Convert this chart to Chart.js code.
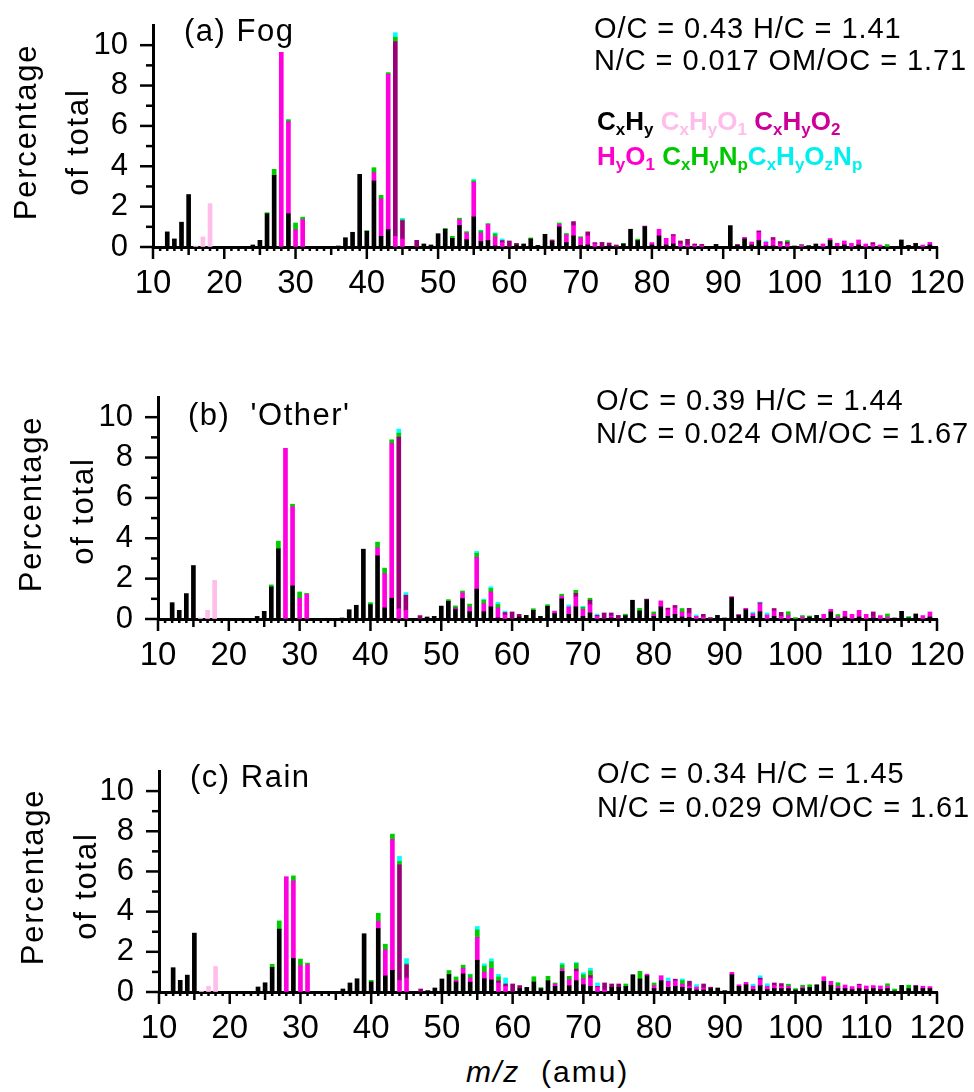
<!DOCTYPE html>
<html>
<head>
<meta charset="utf-8">
<title>AMS mass spectra: Fog, Other, Rain</title>
<script src="https://cdn.jsdelivr.net/npm/chart.js@4"></script>
<style>
  html, body { margin: 0; padding: 0; background: #fff; }
  body { position: relative; width: 974px; height: 1092px; overflow: hidden;
         font-family: 'Liberation Sans', Arial, sans-serif; color: #000; }
  canvas { position: absolute; left: 0; }
  .txt { position: absolute; white-space: nowrap; line-height: 1; }
  .stats { font-size: 29px; letter-spacing: 0.9px; }
  .ptitle { font-size: 31px; letter-spacing: 1.5px; }
  .ytitle { font-size: 31px; letter-spacing: 1.8px; transform: translate(-50%, -50%) rotate(-90deg); }
  .legend { font-size: 26px; font-weight: bold; }
  .legend sub { font-size: 17px; vertical-align: -5px; line-height: 0; }
</style>
</head>
<body>

<canvas id="chartFog" width="974" height="310" style="top:0px"></canvas>
<canvas id="chartOther" width="974" height="310" style="top:370px"></canvas>
<canvas id="chartRain" width="974" height="310" style="top:745px"></canvas>

<!-- panel labels -->
<div class="txt ptitle" style="left:184px; top:15px">(a) Fog</div>
<div class="txt ptitle" style="left:188px; top:399px">(b)&nbsp; 'Other'</div>
<div class="txt ptitle" style="left:190px; top:761px">(c) Rain</div>

<!-- elemental ratios -->
<div class="txt stats" style="left:594px; top:14px">O/C = 0.43 H/C = 1.41</div>
<div class="txt stats" style="left:594px; top:46px">N/C = 0.017 OM/OC = 1.71</div>
<div class="txt stats" style="left:596px; top:386px">O/C = 0.39 H/C = 1.44</div>
<div class="txt stats" style="left:596px; top:419px">N/C = 0.024 OM/OC = 1.67</div>
<div class="txt stats" style="left:597px; top:759px">O/C = 0.34 H/C = 1.45</div>
<div class="txt stats" style="left:597px; top:793px">N/C = 0.029 OM/OC = 1.61</div>

<!-- family legend (colours as printed on the original figure) -->
<div class="txt legend" style="left:597px; top:108px">
  <span style="color:#000">C<sub>x</sub>H<sub>y</sub></span>
  <span style="color:#FFBDEA">C<sub>x</sub>H<sub>y</sub>O<sub>1</sub></span>
  <span style="color:#CC0099">C<sub>x</sub>H<sub>y</sub>O<sub>2</sub></span>
</div>
<div class="txt legend" style="left:597px; top:143px">
  <span style="color:#FF00CC">H<sub>y</sub>O<sub>1</sub></span>
  <span style="color:#00C800">C<sub>x</sub>H<sub>y</sub>N<sub>p</sub></span><span style="color:#00F0F0">C<sub>x</sub>H<sub>y</sub>O<sub>z</sub>N<sub>p</sub></span>
</div>

<!-- y axis titles -->
<div class="txt ytitle" style="left:25px; top:132px">Percentage</div>
<div class="txt ytitle" style="left:77px; top:142px">of total</div>
<div class="txt ytitle" style="left:30px; top:504px">Percentage</div>
<div class="txt ytitle" style="left:82px; top:511px">of total</div>
<div class="txt ytitle" style="left:32px; top:877px">Percentage</div>
<div class="txt ytitle" style="left:85px; top:886px">of total</div>

<!-- x axis title -->
<div class="txt" style="left:466px; top:1057px; font-size:30px; letter-spacing:2px"><i>m/z</i>&nbsp; (amu)</div>

<script>
// x axis: m/z range and labelled ticks
const mzMin = 10;
const mzMax = 120;
const xTickLabels = [10, 20, 30, 40, 50, 60, 70, 80, 90, 100, 110, 120];
// y axis: percentage of total
const yMax = 11;
const yTickLabels = [0, 2, 4, 6, 8, 10];

// ion families, bottom of the stack first
const families = ['CxHy', 'HyO1', 'CxHyO1', 'CxHyO2', 'CxHyNp', 'CxHyOzNp'];
const familyColors = ['#000000', '#FFBDEA', '#FF00E0', '#990078', '#00CC00', '#00FFFF'];

// values as [m/z, % of total]; m/z not listed = 0

// (a) Fog
const fogCxHy = [[12,0.75],[13,0.4],[14,1.23],[15,2.6],[24,0.1],[25,0.33],[26,1.65],[27,3.55],[29,1.65],
  [36,0.05],[37,0.46],[38,0.73],[39,3.6],[40,0.78],[41,3.27],[42,0.53],[43,0.86],[48,0.15],[49,0.1],
  [50,0.66],[51,0.88],[52,0.43],[53,1.07],[54,0.36],[55,1.49],[56,0.27],[57,0.32],[58,0.05],[61,0.1],
  [62,0.15],[63,0.4],[64,0.08],[65,0.63],[66,0.27],[67,1.0],[68,0.22],[69,0.55],[70,0.08],[71,0.1],
  [74,0.05],[76,0.15],[77,0.88],[78,0.32],[79,1.01],[80,0.1],[81,0.55],[82,0.1],[83,0.15],[88,0.03],
  [89,0.13],[90,0.03],[91,1.06],[92,0.1],[93,0.4],[94,0.1],[95,0.32],[96,0.05],[97,0.05],[100,0.05],
  [102,0.07],[103,0.15],[105,0.32],[106,0.03],[107,0.1],[109,0.1],[114,0.03],[115,0.35],[116,0.08],
  [117,0.18],[119,0.1]];
const fogHyO1 = [[16,0.05],[17,0.5],[18,2.15]];
const fogCxHyO1 = [[28,9.65],[29,4.56],[30,0.86],[31,1.36],[41,0.41],[42,1.86],[43,7.7],[44,0.53],[45,0.4],
  [53,0.28],[54,0.33],[55,1.72],[56,0.43],[57,0.79],[58,0.45],[59,0.22],[67,0.12],[68,0.38],[69,0.51],
  [70,0.38],[71,0.45],[72,0.15],[79,0.03],[80,0.12],[81,0.33],[82,0.33],[83,0.4],[84,0.15],[85,0.1],
  [86,0.08],[87,0.06],[92,0.03],[93,0.08],[94,0.15],[95,0.41],[96,0.18],[97,0.3],[98,0.15],[99,0.12],
  [101,0.1],[104,0.15],[105,0.1],[106,0.15],[107,0.2],[108,0.18],[109,0.25],[110,0.15],[111,0.12],
  [112,0.1],[118,0.1],[119,0.13]];
const fogCxHyO2 = [[44,9.65],[45,0.9],[47,0.33],[59,0.1],[60,0.3],[61,0.08],[66,0.08],[69,0.2],[71,0.2],
  [72,0.07],[73,0.23],[74,0.15],[75,0.1],[83,0.07],[84,0.15],[85,0.28],[86,0.07],[87,0.07],[95,0.07],
  [97,0.12],[98,0.12],[99,0.12],[111,0.1]];
const fogCxHyNp = [[26,0.05],[27,0.3],[29,0.1],[30,0.33],[31,0.12],[40,0.03],[41,0.25],[42,0.17],[43,0.08],
  [44,0.22],[45,0.05],[51,0.04],[52,0.1],[53,0.08],[54,0.07],[55,0.07],[56,0.1],[57,0.05],[58,0.15],
  [63,0.05],[67,0.07],[68,0.07],[70,0.05],[76,0.03],[78,0.07],[99,0.08],[101,0.03],[113,0.12]];
const fogCxHyOzNp = [[44,0.22],[45,0.07],[55,0.07],[56,0.03],[58,0.05],[59,0.08],[96,0.05]];

// (b) 'Other'
const otherCxHy = [[12,0.81],[13,0.43],[14,1.26],[15,2.65],[24,0.13],[25,0.38],[26,1.59],[27,3.48],[29,1.64],
  [36,0.05],[37,0.46],[38,0.68],[39,3.46],[40,0.71],[41,3.13],[42,0.55],[43,1.03],[48,0.1],[49,0.13],
  [50,0.64],[51,0.88],[52,0.47],[53,1.01],[54,0.36],[55,1.48],[56,0.36],[57,0.6],[58,0.05],[61,0.1],
  [62,0.18],[63,0.43],[64,0.13],[65,0.63],[66,0.27],[67,1.0],[68,0.23],[69,0.6],[70,0.13],[71,0.3],
  [74,0.05],[76,0.17],[77,0.93],[78,0.4],[79,0.96],[80,0.13],[81,0.6],[82,0.13],[83,0.23],[84,0.1],
  [85,0.08],[89,0.18],[90,0.05],[91,1.06],[92,0.18],[93,0.46],[94,0.13],[95,0.36],[97,0.13],[102,0.1],
  [103,0.18],[105,0.35],[107,0.1],[109,0.1],[111,0.05],[114,0.05],[115,0.38],[116,0.05],[117,0.25],
  [119,0.1]];
const otherHyO1 = [[16,0.05],[17,0.43],[18,1.92]];
const otherCxHyO1 = [[28,8.46],[29,3.92],[30,1.03],[31,1.22],[41,0.4],[42,1.7],[43,7.68],[44,0.51],[45,0.43],
  [52,0.04],[53,0.28],[54,0.24],[55,1.58],[56,0.4],[57,0.74],[58,0.5],[59,0.2],[66,0.12],[67,0.13],
  [68,0.37],[69,0.5],[70,0.35],[71,0.41],[72,0.13],[74,0.1],[79,0.03],[80,0.1],[81,0.3],[82,0.33],
  [83,0.32],[84,0.25],[85,0.2],[86,0.13],[87,0.1],[91,0.05],[92,0.05],[93,0.07],[94,0.13],[95,0.4],
  [96,0.2],[97,0.27],[98,0.13],[99,0.18],[101,0.1],[104,0.23],[105,0.13],[106,0.1],[107,0.28],[108,0.23],
  [109,0.33],[110,0.23],[111,0.05],[112,0.17],[113,0.1],[118,0.17],[119,0.25]];
const otherCxHyO2 = [[44,8.5],[45,0.75],[47,0.17],[52,0.04],[59,0.12],[60,0.35],[61,0.13],[69,0.17],[71,0.22],
  [72,0.05],[73,0.3],[74,0.15],[75,0.18],[82,0.08],[83,0.12],[85,0.25],[87,0.13],[88,0.07],[95,0.04],
  [97,0.12],[98,0.2],[111,0.25]];
const otherCxHyNp = [[26,0.1],[27,0.38],[29,0.13],[30,0.31],[31,0.05],[40,0.1],[41,0.28],[42,0.27],[43,0.17],
  [44,0.2],[51,0.08],[52,0.1],[53,0.1],[54,0.14],[55,0.2],[56,0.17],[57,0.17],[58,0.17],[63,0.08],
  [65,0.08],[67,0.1],[69,0.15],[70,0.1],[71,0.1],[76,0.07],[78,0.13],[80,0.12],[84,0.17],[99,0.18],
  [100,0.07],[101,0.07],[102,0.05],[106,0.12],[113,0.15],[116,0.07]];
const otherCxHyOzNp = [[44,0.2],[45,0.13],[55,0.09],[56,0.05],[57,0.09],[58,0.1],[59,0.07],[68,0.1],[70,0.05],
  [72,0.07],[86,0.07],[94,0.08],[95,0.04],[96,0.1]];

// (c) Rain
const rainCxHy = [[12,1.21],[13,0.58],[14,0.84],[15,2.93],[24,0.25],[25,0.46],[26,1.23],[27,3.13],[29,1.67],
  [36,0.15],[37,0.45],[38,0.66],[39,2.9],[40,0.5],[41,3.16],[42,0.8],[43,1.08],[48,0.07],[49,0.2],
  [50,0.65],[51,0.87],[52,0.5],[53,0.9],[54,0.49],[55,1.58],[56,0.66],[57,0.6],[61,0.17],[62,0.23],
  [63,0.5],[64,0.17],[65,0.56],[66,0.28],[67,1.03],[68,0.31],[69,0.56],[70,0.36],[71,0.28],[74,0.23],
  [75,0.23],[76,0.28],[77,0.86],[78,0.65],[79,0.81],[80,0.17],[81,0.56],[82,0.23],[83,0.28],[84,0.23],
  [85,0.17],[86,0.1],[87,0.1],[88,0.17],[89,0.2],[90,0.07],[91,0.86],[92,0.28],[93,0.36],[94,0.12],
  [95,0.31],[96,0.12],[97,0.17],[98,0.17],[99,0.17],[100,0.1],[101,0.17],[102,0.23],[103,0.36],[104,0.53],
  [105,0.33],[106,0.17],[107,0.17],[108,0.12],[109,0.17],[110,0.12],[111,0.17],[112,0.12],[113,0.17],
  [114,0.05],[115,0.33],[116,0.17],[117,0.3],[118,0.17],[119,0.17]];
const rainHyO1 = [[16,0.05],[17,0.28],[18,1.27]];
const rainCxHyO1 = [[28,5.74],[29,3.86],[30,1.32],[31,1.36],[41,0.35],[42,1.3],[43,6.52],[44,0.58],[45,0.7],
  [52,0.08],[53,0.28],[54,0.21],[55,1.14],[56,0.33],[57,0.57],[58,0.45],[59,0.28],[66,0.12],[67,0.12],
  [68,0.3],[69,0.46],[70,0.3],[71,0.41],[72,0.23],[73,0.1],[79,0.08],[80,0.15],[81,0.25],[82,0.3],
  [83,0.28],[84,0.17],[85,0.12],[86,0.15],[87,0.1],[91,0.12],[92,0.08],[93,0.12],[94,0.17],[95,0.3],
  [96,0.17],[97,0.15],[98,0.1],[99,0.12],[101,0.07],[104,0.23],[105,0.2],[106,0.12],[107,0.18],[108,0.15],
  [109,0.17],[110,0.18],[111,0.15],[112,0.18],[113,0.12],[117,0.03],[118,0.12],[119,0.1]];
const rainCxHyO2 = [[44,5.75],[45,0.65],[47,0.15],[58,0.1],[59,0.12],[60,0.4],[61,0.15],[69,0.12],[71,0.13],
  [72,0.05],[73,0.35],[74,0.17],[75,0.17],[83,0.08],[85,0.25],[87,0.2],[88,0.07],[95,0.08],[97,0.13],
  [98,0.15],[109,0.05]];
const rainCxHyNp = [[26,0.15],[27,0.41],[29,0.25],[30,0.32],[31,0.08],[40,0.08],[41,0.41],[42,0.28],[43,0.26],
  [44,0.17],[45,0.05],[51,0.2],[52,0.17],[53,0.16],[54,0.16],[55,0.37],[56,0.3],[57,0.34],[58,0.2],
  [63,0.26],[64,0.05],[65,0.22],[66,0.05],[67,0.2],[68,0.17],[69,0.28],[70,0.2],[71,0.23],[76,0.12],
  [78,0.38],[80,0.13],[84,0.17],[99,0.1],[100,0.07],[101,0.1],[102,0.13],[106,0.17],[113,0.12],[114,0.1],
  [116,0.17]];
const rainCxHyOzNp = [[44,0.25],[45,0.26],[54,0.03],[55,0.17],[56,0.11],[57,0.14],[58,0.13],[59,0.3],[67,0.08],
  [69,0.05],[70,0.1],[71,0.13],[72,0.17],[82,0.17],[84,0.08],[86,0.12],[94,0.1],[95,0.12],[96,0.12]];

document.addEventListener('DOMContentLoaded', function() {
    const fontFamily = "'Liberation Sans', Arial, sans-serif";

    // Tick marks: every m/z on x, odd minor ticks on y (Chart.js has no minor ticks)
    const tickMarks = {
        id: 'tickMarks',
        afterDraw(chart) {
            const ctx = chart.ctx;
            const xs = chart.scales.x;
            const ys = chart.scales.y;
            const base = ys.getPixelForValue(0);
            const left = xs.getPixelForValue(mzMin);
            ctx.save();
            ctx.strokeStyle = '#000';
            ctx.lineWidth = 2.5;
            for (let m = mzMin; m <= mzMax; m++) {
                const len = m % 10 === 0 ? 12 : (m % 5 === 0 ? 8 : 4);
                const px = xs.getPixelForValue(m);
                ctx.beginPath();
                ctx.moveTo(px, base);
                ctx.lineTo(px, base + len);
                ctx.stroke();
            }
            for (let v = 0; v <= 10; v++) {
                const len = v % 2 === 0 ? 13 : 7;
                const py = ys.getPixelForValue(v);
                ctx.beginPath();
                ctx.moveTo(left, py);
                ctx.lineTo(left - len, py);
                ctx.stroke();
            }
            ctx.restore();
        }
    };

    // fixed axis boxes, so the plot area lands where the original's does
    function fixX(canvas, area, canvasTop) {
        return s => {
            s.height = canvas.height - (area.bottom - canvasTop);
            s.paddingLeft = 0; s.paddingRight = 0; s.paddingTop = 0; s.paddingBottom = 0;
        };
    }
    function fixY(area) {
        return s => {
            s.width = area.left;
            s.paddingLeft = 0; s.paddingRight = 0; s.paddingTop = 0; s.paddingBottom = 0;
        };
    }

    function makeChart(canvasId, canvasTop, area, series) {
        const canvas = document.getElementById(canvasId);
        const datasets = series.map((pairs, i) => ({
            label: families[i],
            data: pairs.map(p => ({ x: p[0], y: p[1] })),
            backgroundColor: familyColors[i],
            borderWidth: 0,
            barThickness: 4,
            stack: 'ions'
        }));

        return new Chart(canvas.getContext('2d'), {
            type: 'bar',
            data: { datasets: datasets },
            options: {
                responsive: false,
                animation: false,
                layout: {
                    padding: { left: 0, right: canvas.width - area.right, top: area.top - canvasTop, bottom: 0 }
                },
                plugins: {
                    legend: { display: false },
                    tooltip: { enabled: false }
                },
                scales: {
                    x: {
                        type: 'linear',
                        min: mzMin,
                        max: mzMax,
                        stacked: true,
                        offset: false,
                        afterBuildTicks: s => { s.ticks = xTickLabels.map(v => ({ value: v })); },
                        afterFit: fixX(canvas, area, canvasTop),
                        grid: { display: true, drawOnChartArea: false, drawTicks: false, offset: false },
                        border: { display: true, color: '#000', width: 3 },
                        ticks: {
                            color: '#000',
                            padding: 17,
                            maxRotation: 0,
                            autoSkip: false,
                            font: { family: fontFamily, size: 33 }
                        }
                    },
                    y: {
                        min: 0,
                        max: yMax,
                        stacked: true,
                        afterBuildTicks: s => { s.ticks = yTickLabels.map(v => ({ value: v })); },
                        afterFit: fixY(area),
                        grid: { display: true, drawOnChartArea: false, drawTicks: false },
                        border: { display: true, color: '#000', width: 3 },
                        ticks: {
                            color: '#000',
                            padding: 25,
                            font: { family: fontFamily, size: 31 }
                        }
                    }
                }
            },
            plugins: [tickMarks]
        });
    }

    makeChart('chartFog', 0, { left: 153, right: 937, top: 25, bottom: 247 },
        [fogCxHy, fogHyO1, fogCxHyO1, fogCxHyO2, fogCxHyNp, fogCxHyOzNp]);
    makeChart('chartOther', 370, { left: 158, right: 937, top: 397, bottom: 619 },
        [otherCxHy, otherHyO1, otherCxHyO1, otherCxHyO2, otherCxHyNp, otherCxHyOzNp]);
    makeChart('chartRain', 745, { left: 159, right: 937, top: 771, bottom: 992 },
        [rainCxHy, rainHyO1, rainCxHyO1, rainCxHyO2, rainCxHyNp, rainCxHyOzNp]);
});
</script>
</body>
</html>
